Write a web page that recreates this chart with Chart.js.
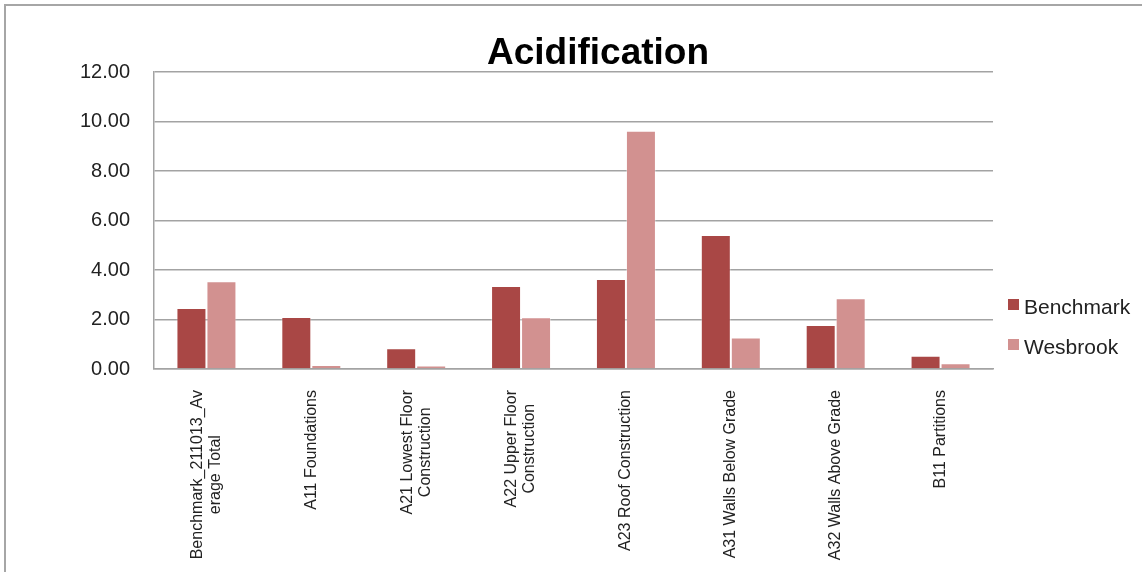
<!DOCTYPE html>
<html>
<head>
<meta charset="utf-8">
<script src="https://cdn.jsdelivr.net/npm/chart.js@4"></script>
<style>
    body { margin: 0; background: #fff; overflow: hidden; }
    .frame {
        position: absolute; left: 4px; top: 4px;
        width: 1300px; height: 700px;
        border: 2px solid #a6a6a6;
    }
    #grafico { position: absolute; left: 0; top: 0; }
</style>
</head>
<body>
<div class="frame"></div>
<canvas id="grafico" width="1142" height="572"></canvas>
<script>
const titulo = 'Acidification';
const categorias = [
    ['Benchmark_211013_Av', 'erage Total'],
    ['A11 Foundations'],
    ['A21 Lowest Floor', 'Construction'],
    ['A22 Upper Floor', 'Construction'],
    ['A23 Roof Construction'],
    ['A31 Walls Below Grade'],
    ['A32 Walls Above Grade'],
    ['B11 Partitions']
];
const benchmark = [2.46, 2.10, 0.84, 3.35, 3.64, 5.41, 1.78, 0.54];
const wesbrook = [3.55, 0.16, 0.14, 2.09, 9.63, 1.27, 2.86, 0.23];
const ticksY = [0, 2, 4, 6, 8, 10, 12];

const corBenchmark = '#a94745';
const corWesbrook = '#d29190';
const corGrade = '#a3a3a3';
const fonte = '"Liberation Sans", Arial, sans-serif';

// titulo, legenda e rotulos do eixo x desenhados a mao (estilo Excel)
const decoracao = {
    id: 'decoracao',
    afterDraw(chart) {
        const ctx = chart.ctx;
        const area = chart.chartArea;
        ctx.save();

        ctx.fillStyle = '#000';
        ctx.font = 'bold 37px ' + fonte;
        ctx.textAlign = 'center';
        ctx.textBaseline = 'alphabetic';
        ctx.fillText(titulo, 598, 64);

        // legenda
        ctx.font = '21px ' + fonte;
        ctx.textAlign = 'left';
        chart.data.datasets.forEach((ds, i) => {
            const y = 299 + i * 40;
            ctx.fillStyle = ds.backgroundColor;
            ctx.fillRect(area.right + 15, y, 11, 11);
            ctx.fillStyle = '#222';
            ctx.fillText(ds.label, area.right + 31, y + 15);
        });

        // rotulos do eixo x, girados e centralizados entre si
        const escalaX = chart.scales.x;
        ctx.font = '16px ' + fonte;
        ctx.fillStyle = '#222';
        ctx.textAlign = 'center';
        ctx.textBaseline = 'middle';
        for (let i = 0; i < categorias.length; i++) {
            const linhas = categorias[i];
            const larguraMax = Math.max(...linhas.map(l => ctx.measureText(l).width));
            const x = escalaX.getPixelForTick(i);
            ctx.save();
            ctx.translate(x, area.bottom + 21);
            ctx.rotate(-Math.PI / 2);
            for (let j = 0; j < linhas.length; j++) {
                const desloc = (j - (linhas.length - 1) / 2) * 18;
                ctx.fillText(linhas[j], -larguraMax / 2, desloc);
            }
            ctx.restore();
        }
        ctx.restore();
    }
};

const grafico = new Chart(document.getElementById('grafico'), {
    type: 'bar',
    data: {
        labels: categorias.map(c => c.join(' ')),
        datasets: [
            {
                label: 'Benchmark',
                data: benchmark,
                backgroundColor: corBenchmark,
                borderColor: 'rgba(255,255,255,0.35)',
                borderWidth: { left: 1, right: 1, top: 1, bottom: 0 },
                barPercentage: 1,
                categoryPercentage: 0.572
            },
            {
                label: 'Wesbrook',
                data: wesbrook,
                backgroundColor: corWesbrook,
                borderColor: 'rgba(255,255,255,0.35)',
                borderWidth: { left: 1, right: 1, top: 1, bottom: 0 },
                barPercentage: 1,
                categoryPercentage: 0.572
            }
        ]
    },
    options: {
        responsive: false,
        animation: false,
        layout: { padding: { left: 0, right: 149, top: 72, bottom: 0 } },
        plugins: {
            legend: { display: false },
            title: { display: false },
            tooltip: { enabled: false }
        },
        scales: {
            x: {
                grid: { display: false },
                border: { display: true, color: corGrade, width: 1.5 },
                ticks: { display: false },
                afterFit(escala) { escala.height = 203; }
            },
            y: {
                min: 0,
                max: 12,
                afterFit(escala) { escala.width = 154; },
                afterBuildTicks(escala) { escala.ticks = ticksY.map(v => ({ value: v })); },
                grid: { color: corGrade, lineWidth: 1.5, drawTicks: false },
                border: { display: true, color: corGrade, width: 1.5 },
                ticks: {
                    padding: 24,
                    color: '#222',
                    font: { family: fonte, size: 20 },
                    callback: v => Number(v).toFixed(2)
                }
            }
        }
    },
    plugins: [decoracao]
});
</script>
</body>
</html>
